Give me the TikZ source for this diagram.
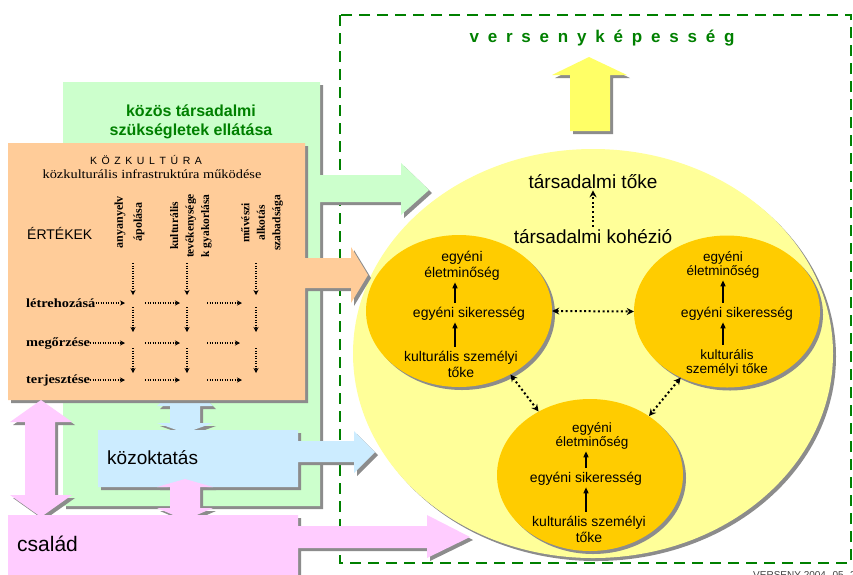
\documentclass[tikz,border=0pt]{standalone}
\usepackage{fontspec}
\setmainfont{Liberation Sans}
\newfontfamily\timesfont[FakeStretch=1.15]{Liberation Serif}
\newfontfamily\timesupright{Liberation Serif}
\usetikzlibrary{arrows.meta,shapes.geometric,shadows}

\definecolor{kozpeach}{HTML}{FFCC99}
\definecolor{kozgreen}{HTML}{CCFFCC}
\definecolor{kozblue}{HTML}{CCECFF}
\definecolor{kozpink}{HTML}{FFCCFF}
\definecolor{bigyellow}{HTML}{FFFF99}
\definecolor{ringorange}{HTML}{FFCC00}
\definecolor{arrowyellow}{HTML}{FFFF66}
\definecolor{framegreen}{HTML}{008000}
\definecolor{shadowgray}{HTML}{8C8C8C}

\tikzset{
  kozshadow/.style={drop shadow={opacity=1, fill=shadowgray, shadow xshift=3pt, shadow yshift=-3pt}},
  ring/.style={ellipse, fill=ringorange, kozshadow, minimum width=186pt, minimum height=152pt},
  ringtext/.style={align=center, inner sep=0pt, font=\fontsize{14}{16}\selectfont},
  smallringtext/.style={align=center, inner sep=0pt, font=\fontsize{13.5}{14.5}\selectfont},
  growarrow/.style={-{Triangle[length=6pt, width=5pt]}, line width=1.4pt, shorten <=4pt, shorten >=1.5pt},
  dotlink/.style={line width=2pt, dash pattern=on 2pt off 2.6pt},
  duallink/.style={dotlink, {Stealth[length=7pt, width=7pt]}-{Stealth[length=7pt, width=7pt]}},
  singlelink/.style={dotlink, -{Stealth[length=7pt, width=7pt]}, shorten <=3pt, shorten >=1pt},
  gridarrow/.style={-{Stealth[length=5pt, width=5pt]}, line width=1.2pt, dash pattern=on 1.2pt off 1.3pt},
  rowlabel/.style={anchor=west, inner sep=0pt, font=\timesfont\bfseries\fontsize{12.5}{14}\selectfont},
  collabel/.style={rotate=90, align=center, inner sep=0pt, font=\timesupright\bfseries\fontsize{11.5}{15.5}\selectfont}
}

\begin{document}
\begin{tikzpicture}[x=1pt, y=-1pt]
\path[use as bounding box, fill=white] (0,0) rectangle (853,574);

% frame and the top arrow
\draw[framegreen, line width=2.5pt, dash pattern=on 11pt off 7pt] (340,15) rectangle (851,563);
\node[font=\bfseries\fontsize{17}{20}\selectfont, text=framegreen] (verseny) at (602,38) {\spaceskip=8.8pt v e r s e n y k é p e s s é g};
\fill[arrowyellow, kozshadow] (589,57) -- (627,75) -- (610,75) -- (610,131) -- (570,131) -- (570,75) -- (552,75) -- cycle;

% big ellipse
\node[ellipse, fill=bigyellow, kozshadow, minimum width=480pt, minimum height=409pt] (kozeg) at (593,353.5) {};

% left blocks
\fill[kozgreen, kozshadow] (63,82) -- (320,82) -- (320,175) -- (401,175) -- (401,163) -- (429,190) -- (401,215) -- (401,202) -- (320,202) -- (320,506) -- (63,506) -- cycle;
\fill[kozblue, kozshadow] (185,380) -- (213,406) -- (200,406) -- (200,423) -- (213,423) -- (185,433) -- (157,423) -- (170,423) -- (170,406) -- (157,406) -- cycle;
\fill[kozpeach, kozshadow] (8,143) -- (305,143) -- (305,258) -- (351,258) -- (351,247) -- (368,275) -- (351,303) -- (351,288) -- (305,288) -- (305,400) -- (8,400) -- cycle;
\fill[kozblue, kozshadow] (98,430) -- (298,430) -- (298,441) -- (354,441) -- (354,431) -- (375,452) -- (354,473) -- (354,462) -- (298,462) -- (298,487) -- (98,487) -- cycle;
\fill[kozpink, kozshadow] (185,479) -- (213,487) -- (200,487) -- (200,508) -- (213,508) -- (185,520) -- (157,508) -- (170,508) -- (170,487) -- (157,487) -- cycle;
\fill[kozpink, kozshadow] (41,400) -- (72,422) -- (55,422) -- (55,495) -- (72,495) -- (41,517) -- (10,495) -- (25,495) -- (25,422) -- (10,422) -- cycle;
\fill[kozpink, kozshadow] (8,515) -- (298,515) -- (298,526) -- (427,526) -- (427,515) -- (470,537) -- (427,558) -- (427,548) -- (298,548) -- (298,590) -- (8,590) -- cycle;

\node[font=\bfseries\fontsize{16}{19}\selectfont, text=framegreen, align=center] (szukseg) at (191,122) {közös társadalmi\\szükségletek ellátása};
\node[font=\fontsize{19}{22}\selectfont, anchor=west, inner sep=0pt] (kozokt) at (107,458) {közoktatás};
\node[font=\fontsize{21}{24}\selectfont, anchor=west, inner sep=0pt] (csalad) at (17,544) {család};

% kozkultura box
\node[font=\fontsize{10.5}{12}\selectfont] (kozkult) at (146,160) {\spaceskip=4.6pt K Ö Z K U L T Ú R A};
\node[font=\timesfont\fontsize{12.5}{14}\selectfont] (infra) at (152,174) {közkulturális infrastruktúra működése};
\node[font=\fontsize{14}{16}\selectfont, anchor=west, inner sep=0pt] (ertekek) at (27,233) {ÉRTÉKEK};

\node[collabel, font=\timesupright\bfseries\fontsize{12}{19}\selectfont] (anyanyelv) at (129.5,222) {anyanyelv\\ápolása};
\node[collabel] (tevekeny) at (191,226) {kulturális\\tevékenysége\\k gyakorlása};
\node[collabel] (szabadsag) at (262,223) {művészi\\alkotás\\szabadsága};

\node[rowlabel] (letre) at (26,303) {létrehozásá};
\node[rowlabel] (megorz) at (26,343) {megőrzése};
\node[rowlabel] (terjeszt) at (26,380) {terjesztése};

\coordinate (t1) at (133,263);
\coordinate (t2) at (187,263);
\coordinate (t3) at (256,263);
\coordinate (g11) at (133,303);
\coordinate (g12) at (187,303);
\coordinate (g13) at (256,303);
\coordinate (g21) at (133,343);
\coordinate (g22) at (187,343);
\coordinate (g23) at (256,343);
\coordinate (g31) at (133,380);
\coordinate (g32) at (187,380);
\coordinate (g33) at (256,380);

\path
(t1) edge[gridarrow] ([yshift=8pt]g11)
([yshift=-4pt]g11) edge[gridarrow] ([yshift=11pt]g21)
([yshift=-5pt]g21) edge[gridarrow] ([yshift=7pt]g31)
(t2) edge[gridarrow] ([yshift=8pt]g12)
([yshift=-4pt]g12) edge[gridarrow] ([yshift=11pt]g22)
([yshift=-5pt]g22) edge[gridarrow] ([yshift=7pt]g32)
(t3) edge[gridarrow] ([yshift=8pt]g13)
([yshift=-4pt]g13) edge[gridarrow] ([yshift=11pt]g23)
([yshift=-5pt]g23) edge[gridarrow] ([yshift=7pt]g33)
(letre.east) edge[gridarrow] ([xshift=-8pt]g11)
([xshift=12pt]g11) edge[gridarrow] ([xshift=-7pt]g12)
([xshift=20pt]g12) edge[gridarrow] ([xshift=-14pt]g13)
(megorz.east) edge[gridarrow] ([xshift=-8pt]g21)
([xshift=12pt]g21) edge[gridarrow] ([xshift=-7pt]g22)
([xshift=20pt]g22) edge[gridarrow] ([xshift=-16pt]g23)
(terjeszt.east) edge[gridarrow] ([xshift=-8pt]g31)
([xshift=12pt]g31) edge[gridarrow] ([xshift=-7pt]g32)
([xshift=20pt]g32) edge[gridarrow] ([xshift=-14pt]g33);

% inside the big ellipse
\node[font=\fontsize{19}{22}\selectfont, inner sep=0pt] (ttoke) at (593,182) {társadalmi tőke};
\node[font=\fontsize{19}{22}\selectfont, inner sep=0pt] (tkoh) at (593,237) {társadalmi kohézió};

\node[ring] (lring) at (459,311) {};
\node[ring] (rring) at (727,311.5) {};
\node[ring] (bring) at (590,475) {};

\node[ringtext] (lelet) at (462,266) {egyéni\\életminőség};
\node[ringtext] (lsiker) at (469,314) {egyéni sikeresség};
\node[ringtext] (lkult) at (461,364) {kulturális személyi\\tőke};
\node[smallringtext] (relet) at (723,265) {egyéni\\életminőség};
\node[ringtext] (rsiker) at (737,314) {egyéni sikeresség};
\node[smallringtext] (rkult) at (727,363) {kulturális\\személyi tőke};
\node[smallringtext] (belet) at (592,436) {egyéni\\életminőség};
\node[ringtext] (bsiker) at (586,479) {egyéni sikeresség};
\node[ringtext] (bkult) at (589,529) {kulturális személyi\\tőke};

\draw[growarrow] ([xshift=-14pt]lsiker.north) -- ([xshift=-7pt]lelet.south);
\draw[growarrow] ([xshift=-6pt]lkult.north) -- ([xshift=-14pt]lsiker.south);
\draw[growarrow] ([xshift=-14pt]rsiker.north) -- (relet.south);
\draw[growarrow] ([xshift=-4pt]rkult.north) -- ([xshift=-14pt]rsiker.south);
\draw[growarrow] (bsiker.north) -- ([xshift=-6pt]belet.south);
\draw[growarrow] ([xshift=-3pt]bkult.north) -- (bsiker.south);

\draw[singlelink] (tkoh.north) -- (ttoke.south);
\draw[duallink] (lring.east) -- (rring.west);
\draw[duallink] (lring.-51) -- (bring.129);
\draw[duallink] (rring.-125) -- (bring.45);

\node[anchor=north west, font=\fontsize{10}{12}\selectfont, text=black!75, inner sep=0pt] (footer) at (753,571) {VERSENY 2004. 05. 2};
\end{tikzpicture}
\end{document}
